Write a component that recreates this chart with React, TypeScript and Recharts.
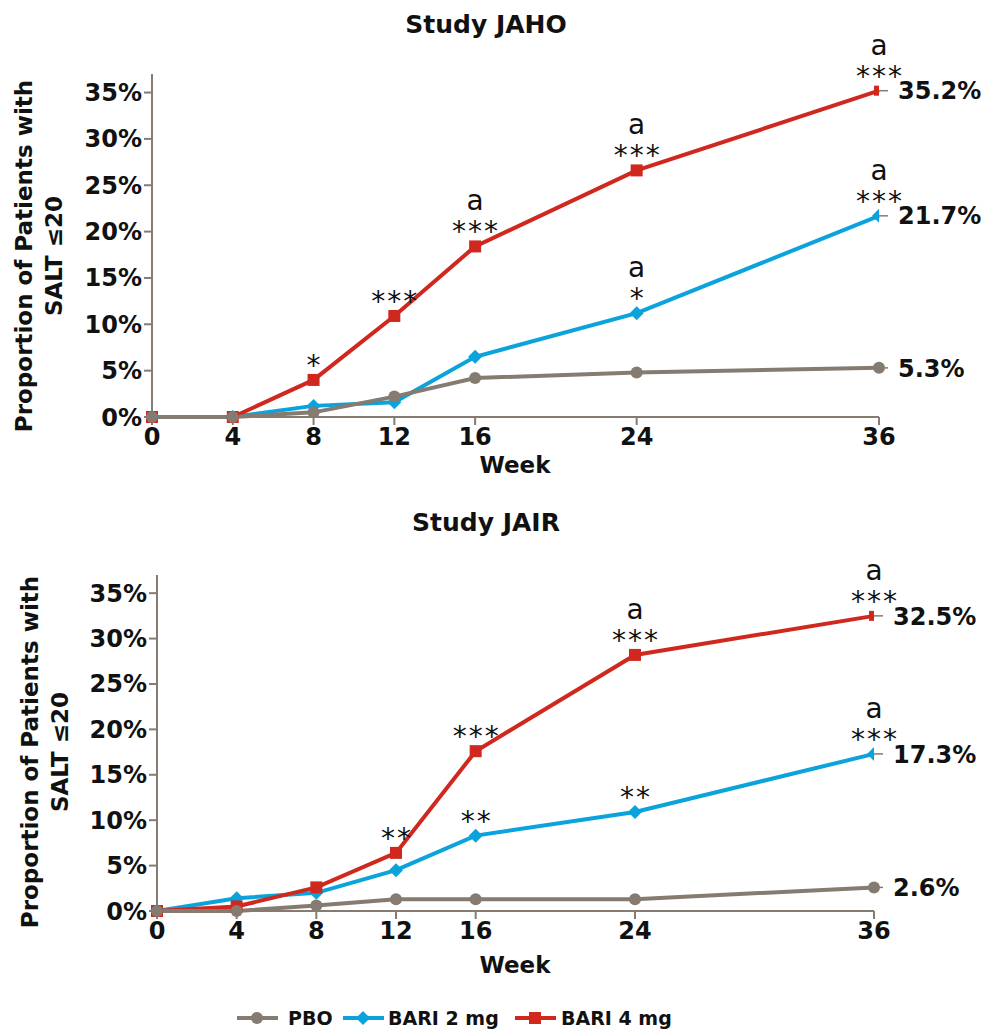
import React from "react";
import { LineChart, Line, XAxis, YAxis } from "recharts";

const WEEKS = [0, 4, 8, 12, 16, 24, 36];
const Y_TICKS = [0, 5, 10, 15, 20, 25, 30, 35];

// Study JAHO (% of patients with SALT <= 20)
const JAHO_PBO = [0, 0, 0.5, 2.2, 4.2, 4.8, 5.3];
const JAHO_BARI2 = [0, 0, 1.2, 1.6, 6.5, 11.2, 21.7];
const JAHO_BARI4 = [0, 0, 4.0, 10.9, 18.4, 26.6, 35.2];
const JAHO_SIG2 = ["", "", "", "", "", "*", "***"];
const JAHO_SIG4 = ["", "", "*", "***", "***", "***", "***"];
const JAHO_A2 = [false, false, false, false, false, true, true];
const JAHO_A4 = [false, false, false, false, true, true, true];

// Study JAIR
const JAIR_PBO = [0, 0, 0.6, 1.3, 1.3, 1.3, 2.6];
const JAIR_BARI2 = [0, 1.4, 2.0, 4.5, 8.3, 10.9, 17.3];
const JAIR_BARI4 = [0, 0.5, 2.6, 6.4, 17.6, 28.2, 32.5];
const JAIR_SIG2 = ["", "", "", "", "**", "**", "***"];
const JAIR_SIG4 = ["", "", "", "**", "***", "***", "***"];
const JAIR_A2 = [false, false, false, false, false, false, true];
const JAIR_A4 = [false, false, false, false, false, true, true];

const RED = "#d0281e";
const BLUE = "#0aa3dc";
const GRAY = "#857b70";
const INK = "#111";
const FONT = "'DejaVu Sans', Verdana, sans-serif";

type Kind = "circle" | "square" | "diamond";

function buildRows(pbo: number[], b2: number[], b4: number[]) {
  return WEEKS.map((w, i) => ({ week: w, pbo: pbo[i], bari2: b2[i], bari4: b4[i] }));
}

function Marker({ kind, cx, cy, color, half }: { kind: Kind; cx: number; cy: number; color: string; half: boolean }) {
  if (kind === "circle") return <circle cx={cx} cy={cy} r={6} fill={color} />;
  if (kind === "square") {
    return half ? (
      <rect x={cx - 5} y={cy - 5} width={5} height={10} fill={color} />
    ) : (
      <rect x={cx - 6} y={cy - 6} width={12} height={12} fill={color} />
    );
  }
  const d = 7;
  const pts = half
    ? `${cx},${cy - d} ${cx - d},${cy} ${cx},${cy + d}`
    : `${cx},${cy - d} ${cx + d},${cy} ${cx},${cy + d} ${cx - d},${cy}`;
  return <polygon points={pts} fill={color} />;
}

const dotFor = (kind: Kind, color: string) => (props: any) => {
  const { cx, cy, index } = props;
  if (cx == null || cy == null) return <g key={`n-${kind}-${index}`} />;
  const last = index === WEEKS.length - 1;
  return <Marker key={`${kind}-${index}`} kind={kind} cx={cx} cy={cy} color={color} half={kind !== "circle" && last} />;
};

const labelFor = (sig: string[] | null, flag: boolean[] | null) => (props: any) => {
  const x = props.x ?? props.viewBox?.x;
  const y = props.y ?? props.viewBox?.y;
  const { index, value } = props;
  if (x == null || y == null) return null;
  const last = index === WEEKS.length - 1;
  const s = sig ? sig[index] : "";
  const a = flag ? flag[index] : false;
  return (
    <g key={`lab-${index}`}>
      {s ? (
        <text x={x + 1} y={y - 5} textAnchor="middle" fontSize={28} letterSpacing={2} fontFamily={FONT} fill={INK}>
          {s}
        </text>
      ) : null}
      {a ? (
        <text x={x} y={y - 36} textAnchor="middle" fontSize={28} fontFamily={FONT} fill={INK}>
          a
        </text>
      ) : null}
      {last ? (
        <>
          <line x1={x} x2={x + 9} y1={y} y2={y} stroke={GRAY} strokeWidth={1.5} />
          <text x={x + 19} y={y} dy="0.36em" fontSize={24} fontWeight="bold" fontFamily={FONT} fill={INK}>
            {`${Number(value).toFixed(1)}%`}
          </text>
        </>
      ) : null}
    </g>
  );
};

type PanelProps = {
  pbo: number[];
  b2: number[];
  b4: number[];
  sig2: string[];
  sig4: string[];
  a2: boolean[];
  a4: boolean[];
  height: number;
  margin: { top: number; right: number; bottom: number; left: number };
};

function Panel({ pbo, b2, b4, sig2, sig4, a2, a4, height, margin }: PanelProps) {
  const rows = buildRows(pbo, b2, b4);
  const tickStyle = { fill: INK, fontSize: 24, fontWeight: "bold", fontFamily: FONT };
  return (
    <LineChart width={987} height={height} data={rows} margin={margin}>
      <XAxis
        type="number"
        dataKey="week"
        domain={[0, 36]}
        ticks={WEEKS}
        interval={0}
        height={30}
        tickSize={8}
        tickMargin={3}
        stroke={GRAY}
        strokeWidth={2}
        tick={tickStyle}
      />
      <YAxis
        type="number"
        domain={[0, 37]}
        ticks={Y_TICKS}
        interval={0}
        width={80}
        tickSize={8}
        tickMargin={2}
        stroke={GRAY}
        strokeWidth={2}
        tick={tickStyle}
        tickFormatter={(v: number) => `${v}%`}
      />
      <Line
        dataKey="bari2"
        stroke={BLUE}
        strokeWidth={4}
        dot={dotFor("diamond", BLUE)}
        activeDot={false}
        label={labelFor(sig2, a2)}
        isAnimationActive={false}
      />
      <Line
        dataKey="bari4"
        stroke={RED}
        strokeWidth={4}
        dot={dotFor("square", RED)}
        activeDot={false}
        label={labelFor(sig4, a4)}
        isAnimationActive={false}
      />
      <Line
        dataKey="pbo"
        stroke={GRAY}
        strokeWidth={4}
        dot={dotFor("circle", GRAY)}
        activeDot={false}
        label={labelFor(null, null)}
        isAnimationActive={false}
      />
    </LineChart>
  );
}

function YTitle({ x1, x2, cy }: { x1: number; x2: number; cy: number }) {
  const st = { fontSize: 23, fontWeight: "bold" as const, fontFamily: FONT, fill: INK };
  return (
    <>
      <text transform={`translate(${x1},${cy}) rotate(-90)`} textAnchor="middle" {...st}>
        Proportion of Patients with
      </text>
      <text transform={`translate(${x2},${cy}) rotate(-90)`} textAnchor="middle" {...st}>
        SALT ≤20
      </text>
    </>
  );
}

function LegendItem({ x, kind, color, label, gap }: { x: number; kind: Kind; color: string; label: string; gap: number }) {
  const y = 1018;
  return (
    <g>
      <line x1={x} x2={x + 41} y1={y} y2={y} stroke={color} strokeWidth={4} />
      <Marker kind={kind} cx={x + 20} cy={y} color={color} half={false} />
      <text x={x + 41 + gap} y={y} dy="0.36em" fontSize={19} fontWeight="bold" fontFamily={FONT} fill={INK}>
        {label}
      </text>
    </g>
  );
}

export default function App() {
  const titleSt = { fontSize: 25, fontWeight: "bold" as const, fontFamily: FONT, fill: INK };
  const weekSt = { fontSize: 23, fontWeight: "bold" as const, fontFamily: FONT, fill: INK };
  return (
    <div style={{ position: "absolute", left: 0, top: 0, width: 987, height: 1030, background: "#fff" }}>
      <div style={{ position: "absolute", left: 0, top: 0 }}>
        <Panel
          pbo={JAHO_PBO}
          b2={JAHO_BARI2}
          b4={JAHO_BARI4}
          sig2={JAHO_SIG2}
          sig4={JAHO_SIG4}
          a2={JAHO_A2}
          a4={JAHO_A4}
          height={480}
          margin={{ top: 74, right: 108, bottom: 33, left: 72 }}
        />
      </div>
      <div style={{ position: "absolute", left: 0, top: 490 }}>
        <Panel
          pbo={JAIR_PBO}
          b2={JAIR_BARI2}
          b4={JAIR_BARI4}
          sig2={JAIR_SIG2}
          sig4={JAIR_SIG4}
          a2={JAIR_A2}
          a4={JAIR_A4}
          height={500}
          margin={{ top: 85, right: 113, bottom: 49, left: 77 }}
        />
      </div>
      <svg
        width={987}
        height={1030}
        style={{ position: "absolute", left: 0, top: 0, pointerEvents: "none" }}
      >
        <text x={486} y={33} textAnchor="middle" {...titleSt}>
          Study JAHO
        </text>
        <text x={515} y={473} textAnchor="middle" {...weekSt}>
          Week
        </text>
        <YTitle x1={32} x2={62} cy={256} />

        <text x={486} y={531} textAnchor="middle" {...titleSt}>
          Study JAIR
        </text>
        <text x={515} y={973} textAnchor="middle" {...weekSt}>
          Week
        </text>
        <YTitle x1={38} x2={68} cy={752} />

        <LegendItem x={237} kind="circle" color={GRAY} label="PBO" gap={10} />
        <LegendItem x={343} kind="diamond" color={BLUE} label="BARI 2 mg" gap={4} />
        <LegendItem x={515} kind="square" color={RED} label="BARI 4 mg" gap={5} />
      </svg>
    </div>
  );
}
